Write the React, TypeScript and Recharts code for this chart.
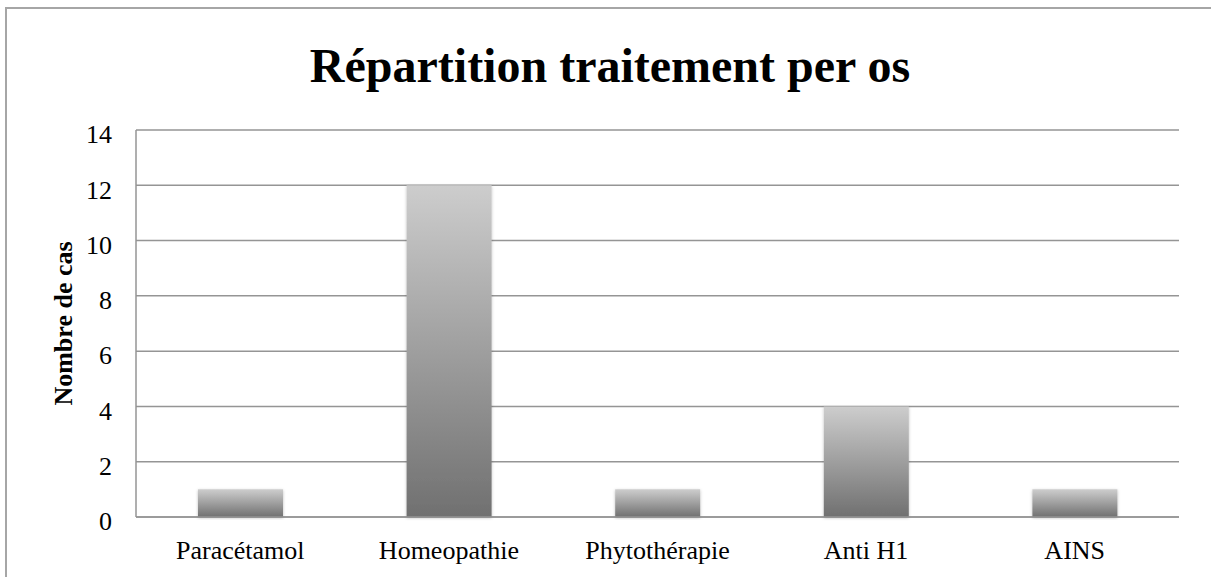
import { Bar, BarChart, CartesianGrid, XAxis, YAxis } from "recharts";

const categories = ["Paracétamol", "Homeopathie", "Phytothérapie", "Anti H1", "AINS"];
const cases = [1, 12, 1, 4, 1];
const yTicks = [0, 2, 4, 6, 8, 10, 12, 14];

const data = categories.map((name, i) => ({ name, cases: cases[i] }));

const FONT = '"Liberation Serif", "Times New Roman", serif';
const GRID = "#959595";

export default function App() {
  return (
    <div
      style={{
        position: "relative",
        width: 1211,
        height: 577,
        overflow: "hidden",
        background: "#fff",
        fontFamily: FONT,
      }}
    >
      <style>{`body{margin:0}`}</style>
      <div
        style={{
          position: "absolute",
          left: 5,
          top: 7,
          width: 1240,
          height: 620,
          border: "2px solid #a6a6a6",
        }}
      />
      <div
        style={{
          position: "absolute",
          left: 0,
          top: 40,
          width: 1220,
          textAlign: "center",
          fontSize: 48,
          fontWeight: "bold",
          lineHeight: "52px",
          color: "#000",
        }}
      >
        Répartition traitement per os
      </div>
      <div style={{ position: "absolute", left: 0, top: 0 }}>
        <BarChart
          width={1211}
          height={577}
          data={data}
          margin={{ top: 130, right: 32, bottom: 0, left: 0 }}
        >
          <defs>
            <linearGradient id="barFill" x1="0" y1="0" x2="0" y2="1">
              <stop offset="0%" stopColor="#cdcdcd" />
              <stop offset="100%" stopColor="#707070" />
            </linearGradient>
            <filter id="barShadow" x="-10%" y="-10%" width="120%" height="120%">
              <feDropShadow dx="0" dy="1" stdDeviation="1.5" floodColor="#000" floodOpacity="0.25" />
            </filter>
          </defs>
          <CartesianGrid vertical={false} stroke={GRID} strokeWidth={1.5} />
          <XAxis
            dataKey="name"
            height={60}
            tickLine={false}
            tickSize={0}
            tickMargin={24}
            axisLine={{ stroke: GRID, strokeWidth: 1.5 }}
            tick={{ fill: "#000", fontSize: 26, fontFamily: FONT }}
            interval={0}
          />
          <YAxis
            width={136}
            domain={[0, 14]}
            ticks={yTicks}
            tickLine={false}
            tickSize={0}
            tickMargin={24}
            axisLine={{ stroke: GRID, strokeWidth: 1.5 }}
            tick={{ fill: "#000", fontSize: 26, fontFamily: FONT, dy: 4 }}
            label={{
              content: ({ viewBox }: any) => {
                const x = viewBox.x + 72;
                const y = viewBox.y + viewBox.height / 2;
                return (
                  <text
                    x={x}
                    y={y}
                    transform={`rotate(-90 ${x} ${y})`}
                    textAnchor="middle"
                    fontFamily={FONT}
                    fontSize={26}
                    fontWeight="bold"
                    fill="#000"
                  >
                    Nombre de cas
                  </text>
                );
              },
            }}
          />
          <Bar
            dataKey="cases"
            barSize={85}
            fill="url(#barFill)"
            filter="url(#barShadow)"
            isAnimationActive={false}
          />
        </BarChart>
      </div>
    </div>
  );
}
